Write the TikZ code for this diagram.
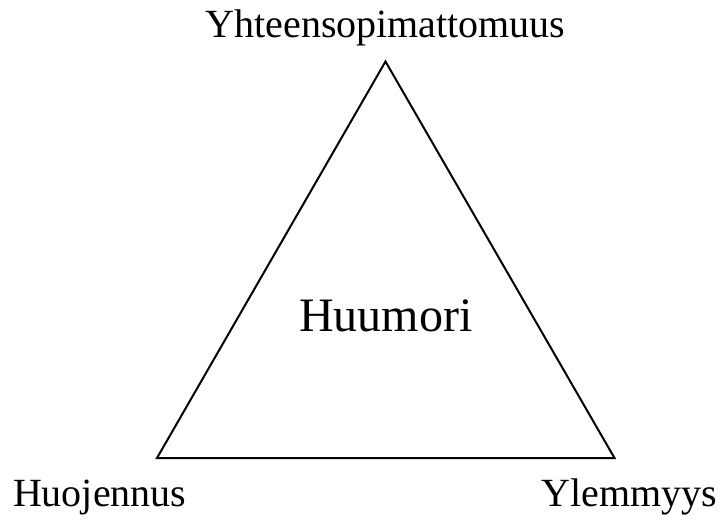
\documentclass[tikz,border=0pt]{standalone}
\usepackage{fontspec}
\setmainfont{Liberation Serif}
\usepackage{tikz}

\tikzset{kulma/.style={anchor=base, inner sep=0pt, font=\fontsize{40}{44}\selectfont},
         keski/.style={anchor=base, inner sep=0pt, font=\fontsize{48}{52}\selectfont}}

\begin{document}
\begin{tikzpicture}[x=1pt, y=-1pt, line width=2pt]
    \useasboundingbox (0,0) rectangle (723,520);

    \coordinate (yla) at (385.5,61.5);
    \coordinate (vasen) at (157,458);
    \coordinate (oikea) at (614.5,458);
    \draw[line join=miter] (yla) -- (vasen) -- (oikea) -- cycle;

    \node[kulma] (yhteen) at (385.5,37) {Yhteensopimattomuus};
    \node[kulma, anchor=base west] (huoj) at (12,506) {Huojennus};
    \node[kulma, anchor=base east] (ylemm) at (718,506) {Ylemmyys};
    \node[keski] (huumori) at (386,331.5) {Huumori};
\end{tikzpicture}
\end{document}
